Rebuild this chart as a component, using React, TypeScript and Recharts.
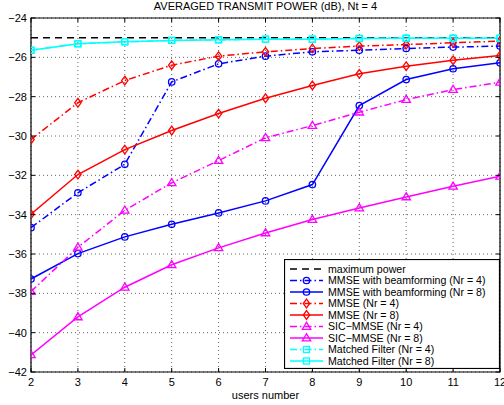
import React from 'react';
import { LineChart, Line, XAxis, YAxis, CartesianGrid, ReferenceArea, Legend } from 'recharts';

const users = [2, 3, 4, 5, 6, 7, 8, 9, 10, 11, 12];
const maxPower = [-25, -25, -25, -25, -25, -25, -25, -25, -25, -25, -25];
const mmseBfNr4 = [-34.66, -32.89, -31.44, -27.25, -26.33, -25.94, -25.72, -25.64, -25.55, -25.48, -25.43];
const mmseBfNr8 = [-37.27, -35.98, -35.13, -34.49, -33.91, -33.3, -32.47, -28.45, -27.13, -26.58, -26.28];
const mmseNr4 = [-30.18, -28.31, -27.18, -26.4, -25.94, -25.72, -25.55, -25.43, -25.35, -25.26, -25.18];
const mmseNr8 = [-33.98, -31.96, -30.69, -29.72, -28.86, -28.08, -27.43, -26.84, -26.45, -26.15, -25.91];
const sicNr4 = [-37.91, -35.66, -33.78, -32.38, -31.25, -30.09, -29.47, -28.79, -28.15, -27.64, -27.27];
const sicNr8 = [-41.13, -39.2, -37.69, -36.55, -35.69, -34.93, -34.25, -33.66, -33.1, -32.56, -32.05];
const mfNr4 = [-25.64, -25.31, -25.21, -25.14, -25.11, -25.08, -25.08, -25.04, -25.03, -25.03, -25.03];
const mfNr8 = [-25.64, -25.31, -25.21, -25.14, -25.11, -25.08, -25.08, -25.04, -25.03, -25.03, -25.03];

const xTicks = [2, 3, 4, 5, 6, 7, 8, 9, 10, 11, 12];
const yTicks = [-42, -40, -38, -36, -34, -32, -30, -28, -26, -24];

const TITLE = 'AVERAGED TRANSMIT POWER (dB), Nt = 4';
const XLABEL = 'users number';

const FONT = '"Liberation Sans", Arial, Helvetica, sans-serif';
const DD = '7 3 1.5 3';

type Marker = 'none' | 'circle' | 'diamond' | 'triangle' | 'square';
interface SeriesDef { key: string; name: string; color: string; dash?: string; marker: Marker; values: number[] }

const series: SeriesDef[] = [
  { key: 'maxPower', name: 'maximum power', color: '#000000', dash: '7 5', marker: 'none', values: maxPower },
  { key: 'mmseBfNr4', name: 'MMSE with beamforming (Nr = 4)', color: '#0000ff', dash: DD, marker: 'circle', values: mmseBfNr4 },
  { key: 'mmseBfNr8', name: 'MMSE with beamforming (Nr = 8)', color: '#0000ff', marker: 'circle', values: mmseBfNr8 },
  { key: 'mmseNr4', name: 'MMSE (Nr = 4)', color: '#ff0000', dash: DD, marker: 'diamond', values: mmseNr4 },
  { key: 'mmseNr8', name: 'MMSE (Nr = 8)', color: '#ff0000', marker: 'diamond', values: mmseNr8 },
  { key: 'sicNr4', name: 'SIC\u2212MMSE (Nr = 4)', color: '#ff00ff', dash: DD, marker: 'triangle', values: sicNr4 },
  { key: 'sicNr8', name: 'SIC\u2212MMSE (Nr = 8)', color: '#ff00ff', marker: 'triangle', values: sicNr8 },
  { key: 'mfNr4', name: 'Matched Filter (Nr = 4)', color: '#00ffff', dash: DD, marker: 'square', values: mfNr4 },
  { key: 'mfNr8', name: 'Matched Filter (Nr = 8)', color: '#00ffff', marker: 'square', values: mfNr8 },
];

const data = users.map((u, i) => {
  const row: Record<string, number> = { users: u };
  series.forEach((s) => { row[s.key] = s.values[i]; });
  return row;
});

function drawMarker(type: Marker, cx: number, cy: number, color: string, key?: string) {
  const common = { fill: 'none', stroke: color, strokeWidth: 1.3 } as any;
  switch (type) {
    case 'circle':
      return <circle key={key} cx={cx} cy={cy} r={3.2} {...common} />;
    case 'diamond':
      return <path key={key} d={`M${cx},${cy - 4.3}L${cx + 3.2},${cy}L${cx},${cy + 4.3}L${cx - 3.2},${cy}Z`} {...common} />;
    case 'triangle':
      return <path key={key} d={`M${cx},${cy - 4.3}L${cx + 4.2},${cy + 2.8}L${cx - 4.2},${cy + 2.8}Z`} {...common} />;
    case 'square':
      return <rect key={key} x={cx - 3} y={cy - 3} width={6} height={6} {...common} />;
    default:
      return null;
  }
}

const fmt = (v: number) => (v < 0 ? '\u2212' + Math.abs(v) : String(v));

const PLOT_L = 31;
const PLOT_R = 500;
const PLOT_T = 18;
const PLOT_B = 372;

const YTick = (p: any) => {
  const { y, payload } = p;
  return (
    <g>
      <text x={27} y={y} dy={4} textAnchor="end" fontSize={11} fontFamily={FONT} fill="#000">{fmt(payload.value)}</text>
      <line x1={PLOT_L} x2={PLOT_L + 4} y1={y} y2={y} stroke="#000" strokeWidth={1} />
      <line x1={PLOT_R} x2={PLOT_R - 4} y1={y} y2={y} stroke="#000" strokeWidth={1} />
    </g>
  );
};

const XTick = (p: any) => {
  const { x, payload } = p;
  return (
    <g>
      <text x={x} y={386} textAnchor="middle" fontSize={11} fontFamily={FONT} fill="#000">{fmt(payload.value)}</text>
      <line x1={x} x2={x} y1={PLOT_B} y2={PLOT_B - 4} stroke="#000" strokeWidth={1} />
      <line x1={x} x2={x} y1={PLOT_T} y2={PLOT_T + 4} stroke="#000" strokeWidth={1} />
    </g>
  );
};

const LegendBox = () => {
  const w = 216;
  const h = 110;
  const rowH = 11.5;
  return (
    <svg width={w} height={h} style={{ display: 'block' }}>
      <rect x={0.5} y={0.5} width={w - 1} height={h - 1} fill="#fff" stroke="#000" strokeWidth={1.2} />
      {series.map((s, i) => {
        const cy = 10 + i * rowH;
        return (
          <g key={s.key}>
            <line x1={6} x2={39} y1={cy} y2={cy} stroke={s.color} strokeWidth={1.5} strokeDasharray={s.dash} />
            {drawMarker(s.marker, 22.5, cy, s.color)}
            <text x={44} y={cy + 3.8} fontSize={10.6} fontFamily={FONT} fill="#000">{s.name}</text>
          </g>
        );
      })}
    </svg>
  );
};

export default function App() {
  return (
    <div style={{ position: 'absolute', left: 0, top: 0, width: 504, height: 405, background: '#fff' }}>
      <LineChart width={504} height={405} data={data} margin={{ top: PLOT_T, right: 4, bottom: 0, left: 0 }}>
        <CartesianGrid stroke="#666" strokeDasharray="1 3" strokeWidth={1} />
        <XAxis
          dataKey="users"
          type="number"
          domain={[2, 12]}
          ticks={xTicks}
          height={33}
          axisLine={false}
          tickLine={false}
          tickSize={0}
          tick={<XTick />}
          interval={0}
          allowDataOverflow
        />
        <YAxis
          type="number"
          domain={[-42, -24]}
          ticks={yTicks}
          width={31}
          axisLine={false}
          tickLine={false}
          tickSize={0}
          tick={<YTick />}
          interval={0}
          allowDataOverflow
        />
        <ReferenceArea x1={2} x2={12} y1={-42} y2={-24} fill="none" stroke="#000" strokeWidth={1.2} ifOverflow="visible" />
        {series.map((s) => (
          <Line
            key={s.key}
            dataKey={s.key}
            name={s.name}
            stroke={s.color}
            strokeWidth={1.5}
            strokeDasharray={s.dash}
            isAnimationActive={false}
            dot={s.marker === 'none' ? false : (props: any) => drawMarker(s.marker, props.cx, props.cy, s.color, `${s.key}-${props.index}`) as any}
            activeDot={false}
            type="linear"
          />
        ))}
        <Legend
          layout="horizontal"
          verticalAlign="middle"
          align="center"
          content={<LegendBox />}
          wrapperStyle={{ position: 'absolute', left: 284, top: 259, width: 216, height: 110 }}
        />
      </LineChart>
      <svg width={504} height={405} style={{ position: 'absolute', left: 0, top: 0, pointerEvents: 'none' }}>
        <text x={265.5} y={10} textAnchor="middle" fontSize={11} fontFamily={FONT} fill="#000">{TITLE}</text>
        <text x={265.5} y={399} textAnchor="middle" fontSize={11} fontFamily={FONT} fill="#000">{XLABEL}</text>
      </svg>
    </div>
  );
}
